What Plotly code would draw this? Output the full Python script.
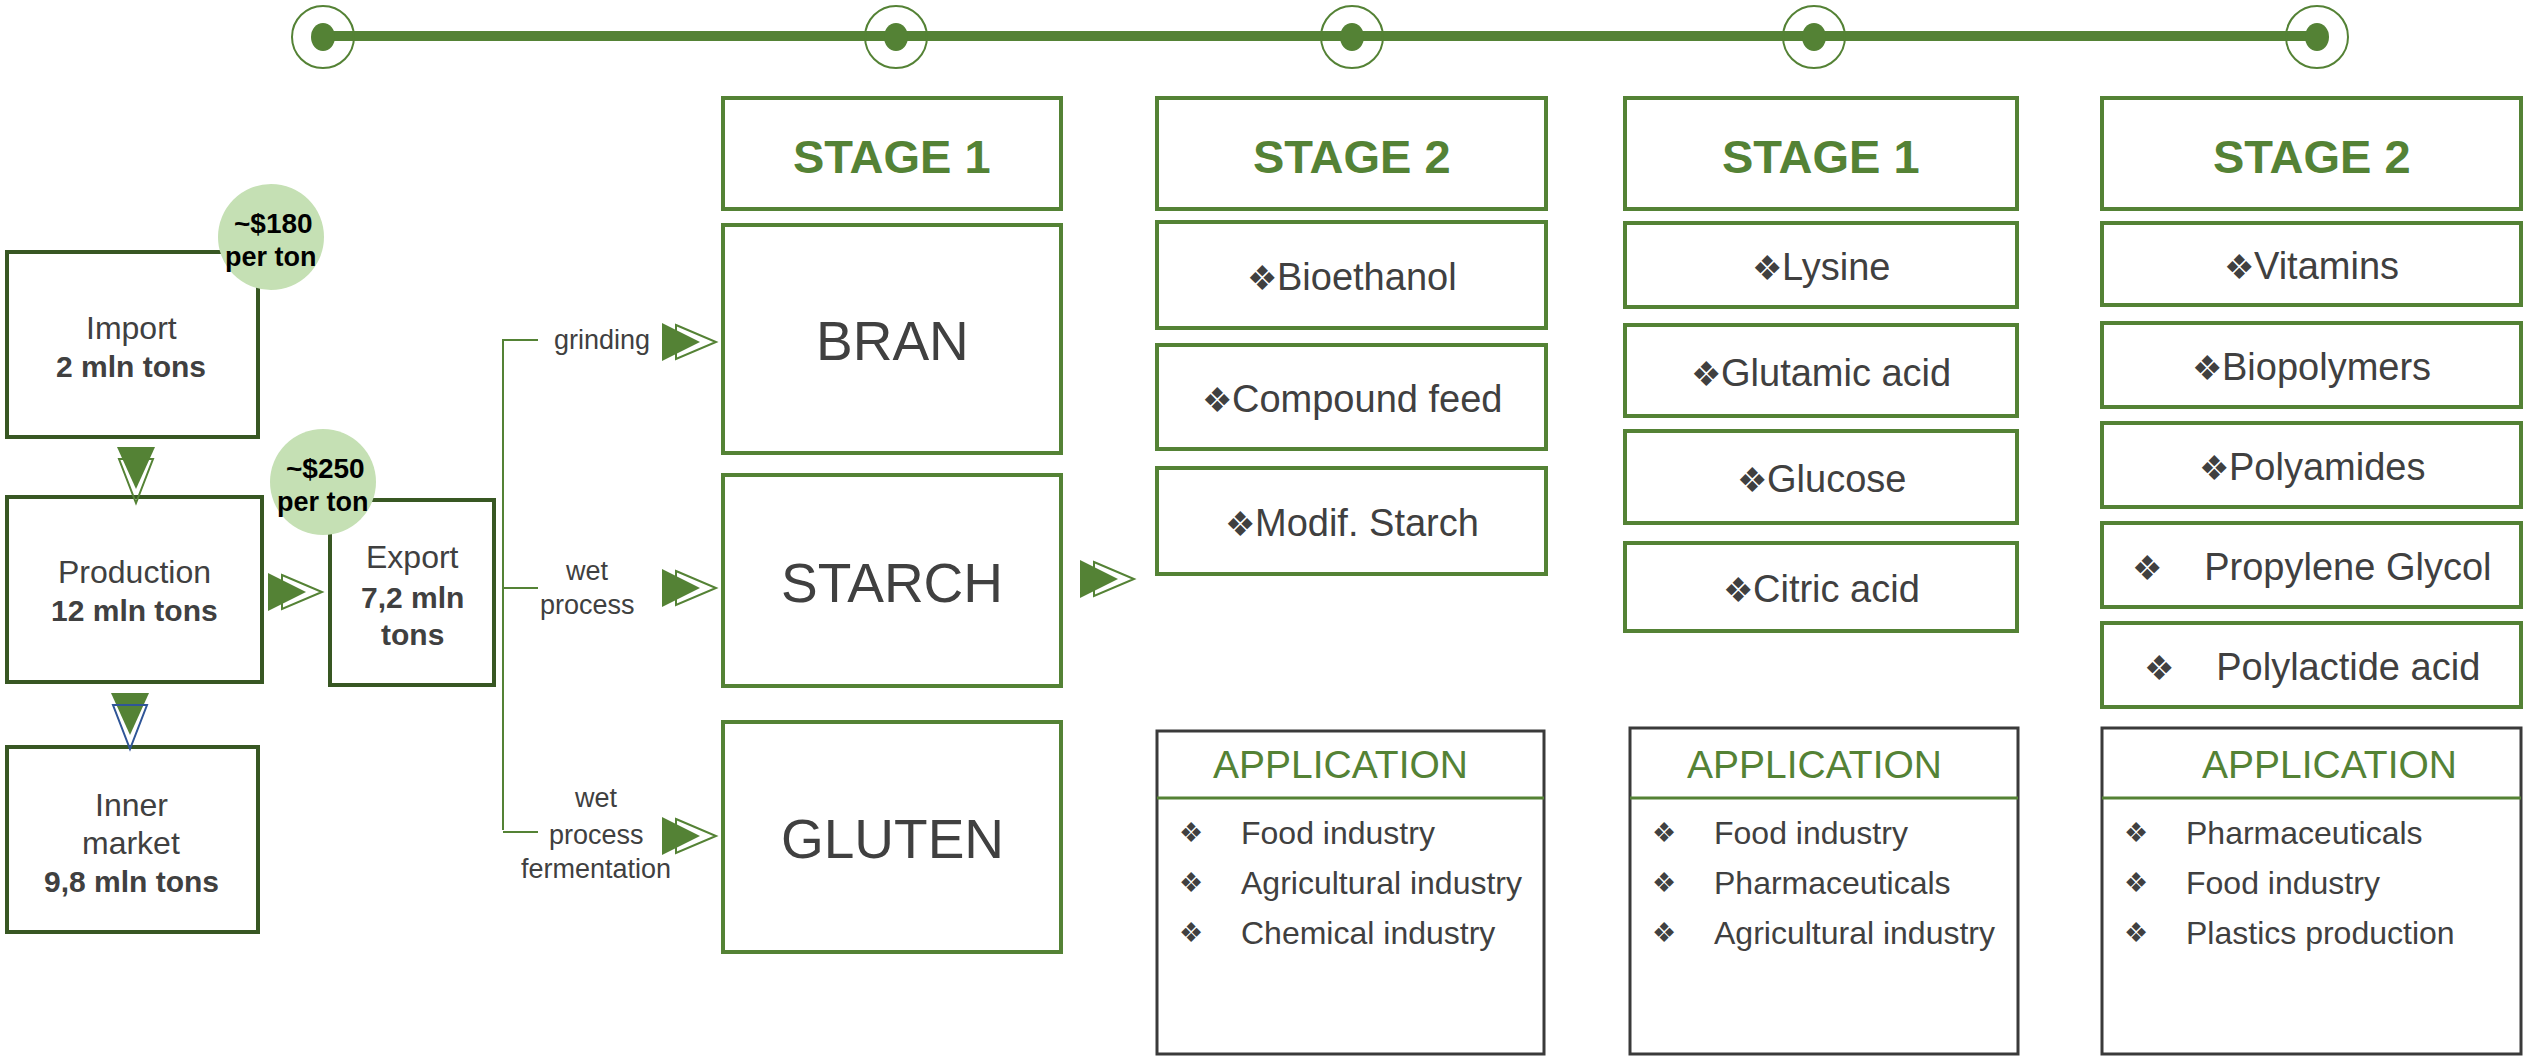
import plotly.graph_objects as go

# ---------------- data ----------------
flow_names = ["Import", "Production", "Export", "Inner market"]
flow_values_mln_t = [2, 12, 7.2, 9.8]
price_labels = ["~$180", "~$250"]
price_unit = "per ton"
processes = [["grinding"], ["wet", "process"], ["wet", "process", "fermentation"]]
stage_titles = ["STAGE 1", "STAGE 2", "STAGE 1", "STAGE 2"]
stage1_products = ["BRAN", "STARCH", "GLUTEN"]
stage2_products = ["Bioethanol", "Compound feed", "Modif. Starch"]
stage1_fermentation = ["Lysine", "Glutamic acid", "Glucose", "Citric acid"]
stage2_fermentation = ["Vitamins", "Biopolymers", "Polyamides", "Propylene Glycol", "Polylactide acid"]
app_title = "APPLICATION"
applications_1 = ["Food industry", "Agricultural industry", "Chemical industry"]
applications_2 = ["Food industry", "Pharmaceuticals", "Agricultural industry"]
applications_3 = ["Pharmaceuticals", "Food industry", "Plastics production"]

# ---------------- style ----------------
W, H = 2526, 1056
GREEN = "#548235"
DKGREEN = "#385723"
LTGREEN = "#C5E0B4"
TXT = "#404040"
FONT = "Liberation Sans, Arial, sans-serif"
BUL = "\u2756"

shapes = []
ann = []


def rect(x0, y0, x1, y1, color, w=4, fill="white"):
    shapes.append(dict(type="rect", x0=x0, y0=y0, x1=x1, y1=y1,
                       line=dict(color=color, width=w), fillcolor=fill))


def text(x, y, s, size, color=TXT, bold=False, anchor="center"):
    if bold:
        s = "<b>" + s + "</b>"
    ann.append(dict(x=x, y=y, text=s, showarrow=False, xanchor=anchor, yanchor="middle",
                    font=dict(family=FONT, size=size, color=color)))


def path(d, fill=None, color=GREEN, w=2):
    shapes.append(dict(type="path", path=d, fillcolor=fill if fill else "rgba(0,0,0,0)",
                       line=dict(color=color, width=w if fill is None else 0)))


def arrow_right(L, c, outline=GREEN):
    path(f"M{L},{c-19} L{L+38},{c} L{L},{c+19} Z", fill=GREEN)
    path(f"M{L+14},{c-17} L{L+54},{c} L{L+14},{c+17} Z", color=outline)


def arrow_down(xc, t, outline=GREEN):
    path(f"M{xc-19},{t} L{xc+19},{t} L{xc},{t+42} Z", fill=GREEN)
    path(f"M{xc-17},{t+12} L{xc+17},{t+12} L{xc},{t+56} Z", color=outline)


def fmt(v):
    return (f"{v:g}").replace(".", ",")


# ---------------- timeline ----------------
dots_x = [323, 896, 1352, 1814, 2317]
shapes.append(dict(type="line", x0=dots_x[0], y0=36, x1=dots_x[-1], y1=36,
                   line=dict(color=GREEN, width=10)))
for x in dots_x:
    shapes.append(dict(type="circle", x0=x - 31, y0=6, x1=x + 31, y1=68,
                       line=dict(color=GREEN, width=2)))
    shapes.append(dict(type="circle", x0=x - 12, y0=23, x1=x + 12, y1=51,
                       fillcolor=GREEN, line=dict(width=0)))

# ---------------- left flow ----------------
boxes = [(7, 252, 258, 437), (7, 497, 262, 682), (330, 500, 494, 685), (7, 747, 258, 932)]
for b in boxes:
    rect(*b, DKGREEN, 4)

REG, BLD = 32, 30
text(131, 328, flow_names[0], REG)
text(131, 366, f"{fmt(flow_values_mln_t[0])} mln tons", BLD, bold=True)
text(134, 572, flow_names[1], REG)
text(134, 610, f"{fmt(flow_values_mln_t[1])} mln tons", BLD, bold=True)
text(412, 557, flow_names[2], REG)
text(412, 597, f"{fmt(flow_values_mln_t[2])} mln", BLD, bold=True)
text(412, 634, "tons", BLD, bold=True)
inner = flow_names[3].split(" ")
text(131, 805, inner[0], REG)
text(131, 843, inner[1], REG)
text(131, 881, f"{fmt(flow_values_mln_t[3])} mln tons", BLD, bold=True)

# price circles
for (cx, cy), lab in zip([(271, 237), (323, 482)], price_labels):
    shapes.append(dict(type="circle", x0=cx - 53, y0=cy - 53, x1=cx + 53, y1=cy + 53,
                       fillcolor=LTGREEN, line=dict(width=0)))
    text(cx + 2, cy - 14, lab, 28, color="black", bold=True)
    text(cx, cy + 20, price_unit, 27, color="black", bold=True)

arrow_down(136, 447)
arrow_down(130, 693, outline="#2F5597")
arrow_right(268, 592)

# bracket
shapes.append(dict(type="line", x0=503, y0=339, x1=503, y1=830, line=dict(color=GREEN, width=2)))
proc_y = [340, 588, 832]
for y in proc_y:
    shapes.append(dict(type="line", x0=503, y0=y, x1=538, y1=y, line=dict(color=GREEN, width=2)))

# process labels
proc_text_pos = [(602, [340]), (587, [571, 605]), (596, [798, 835, 869])]
for lines, (cx, ys) in zip(processes, proc_text_pos):
    for s, y in zip(lines, ys):
        text(cx, y, s, 27)
for c in [342, 588, 836]:
    arrow_right(662, c)

# ---------------- stage columns ----------------
cols = [(723, 1061), (1157, 1546), (1625, 2017), (2102, 2521)]
for (x0, x1), t in zip(cols, stage_titles):
    rect(x0, 98, x1, 209, GREEN, 4)
    text((x0 + x1) / 2, 156, t, 47, color=GREEN, bold=True)

# column 1 big boxes
c1_y = [(225, 453), (475, 686), (722, 952)]
for (y0, y1), s in zip(c1_y, stage1_products):
    rect(cols[0][0], y0, cols[0][1], y1, GREEN, 4)
    text((cols[0][0] + cols[0][1]) / 2, (y0 + y1) / 2 + 2, s, 55)

arrow_right(1080, 579)


def item_col(col, ys, names, spaced=()):
    x0, x1 = col
    for (y0, y1), s in zip(ys, names):
        rect(x0, y0, x1, y1, GREEN, 4)
        sep = "\u00a0\u00a0\u00a0\u00a0" if s in spaced else ""
        label = f"<span style='font-size:34px'>{BUL}</span>{sep}{s}"
        text((x0 + x1) / 2, (y0 + y1) / 2 + 2, label, 38)


item_col(cols[1], [(222, 328), (345, 449), (468, 574)], stage2_products)
item_col(cols[2], [(223, 307), (325, 416), (431, 523), (543, 631)], stage1_fermentation)
item_col(cols[3], [(223, 305), (323, 407), (423, 507), (523, 607), (623, 707)],
         stage2_fermentation, spaced=("Propylene Glycol", "Polylactide acid"))

# ---------------- application boxes ----------------
app_boxes = [(1157, 731, 1544), (1630, 728, 2018), (2102, 728, 2521)]
for (x0, y0, x1), items in zip(app_boxes, [applications_1, applications_2, applications_3]):
    rect(x0, y0, x1, 1054, "#3A3A3A", 3)
    shapes.append(dict(type="line", x0=x0, y0=798, x1=x1, y1=798, line=dict(color=GREEN, width=3)))
    text((x0 + x1) / 2 - 10 if x1 < 2500 else 2329, 764, app_title, 39, color=GREEN)
    for i, s in enumerate(items):
        y = 833 + 50 * i
        text(x0 + 34, y, f"{BUL}", 27)
        text(x0 + 82, y, s, 32, anchor="left")

fig = go.Figure()
fig.update_layout(
    width=W, height=H, margin=dict(l=0, r=0, t=0, b=0),
    paper_bgcolor="white", plot_bgcolor="white",
    xaxis=dict(range=[0, W], visible=False, fixedrange=True),
    yaxis=dict(range=[H, 0], visible=False, fixedrange=True),
    shapes=shapes, annotations=ann, showlegend=False,
)
fig.write_html("out.html", config={"displayModeBar": False},
               post_script="document.body.style.margin='0';document.body.style.overflow='hidden';")
